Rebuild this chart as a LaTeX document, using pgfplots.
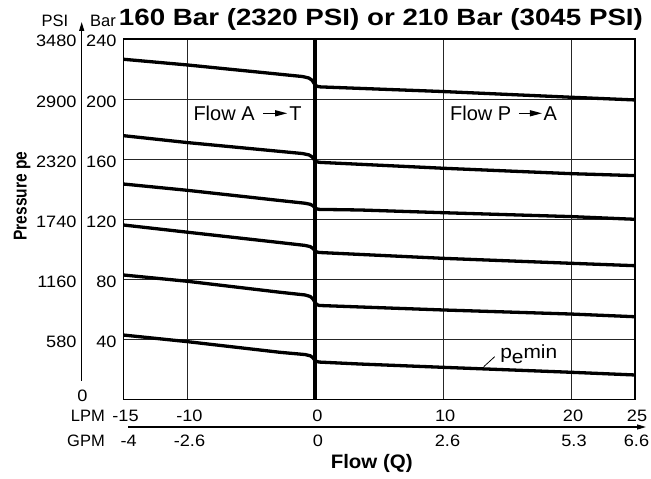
\documentclass[border=0pt]{standalone}
\usepackage{fontspec}
\setmainfont{Liberation Sans}
\newfontfamily\tickf[FakeStretch=1.1]{Liberation Sans}
\newfontfamily\titlef[FakeStretch=1.18]{Liberation Sans}
\newfontfamily\labf[FakeStretch=1.05]{Liberation Sans}
\usepackage{pgfplots}
\pgfplotsset{compat=1.18}
\usetikzlibrary{arrows.meta}

\newcommand{\tickfont}{\tickf\fontsize{16.5bp}{20bp}\selectfont}

\begin{document}
\begin{tikzpicture}
\useasboundingbox (-123.5bp,-79.7bp) rectangle (527.5bp,399.3bp);
\begin{axis}[
  at={(0,0)}, anchor=south west,
  scale only axis, width=511.5bp, height=360.3bp,
  xmin=-15, xmax=25, ymin=0, ymax=240,
  xtick={-15,-10,0,10,20,25},
  xticklabels={-15,-10,0,10,20,25},
  ytick={40,80,120,160,200,240},
  yticklabels={40,80,120,160,200,240},
  grid=major,
  major grid style={line width=0.9bp, black!85},
  tick style={draw=none},
  axis line style={line width=1.4bp},
  xticklabel style={font=\tickfont, anchor=base, inner sep=0pt, yshift=-22.4bp, xshift=2bp},
  yticklabel style={font=\tickfont, anchor=base east, inner sep=0pt, xshift=-6.8bp, yshift=-8bp},
  clip=false,
]
% curves
\addplot[line width=3.3bp, line join=round] coordinates {
 (-15,226.5) (-10,222.7) (-1,215) (-0.5,214) (-0.25,212.5) (-0.1,210.5) (0,209.3) (0.15,208.5) (0.4,208.1) (10,205) (20,201.2) (25,199.4)};
\addplot[line width=3.3bp, line join=round] coordinates {
 (-15,175.6) (-10,171) (-1,163.7) (-0.5,162.8) (-0.25,161.5) (-0.1,159.8) (0,158.8) (0.15,158.1) (0.4,157.8) (10,153.9) (20,150.3) (25,149)};
\addplot[line width=3.3bp, line join=round] coordinates {
 (-15,143.4) (-10,139.2) (-2.76,132.4) (-0.8,130.6) (-0.4,129.9) (-0.2,129) (-0.05,127.8) (0.1,126.9) (0.3,126.5) (3.5,126.1) (10,124.3) (20,121.7) (25,119.9)};
\addplot[line width=3.3bp, line join=round] coordinates {
 (-15,116.1) (-10,111.3) (-2.76,104.4) (-0.8,102.5) (-0.4,101.7) (-0.2,100.6) (-0.05,99.2) (0.1,98.2) (0.3,97.8) (3.5,96.5) (10,93.9) (20,90.6) (25,89)};
\addplot[line width=3.3bp, line join=round] coordinates {
 (-15,82.8) (-10,78.6) (-2.76,71.3) (-0.8,69.5) (-0.4,68.5) (-0.2,67) (-0.05,65) (0.1,63.2) (0.3,62.5) (3.5,61.5) (10,59.5) (20,56.8) (25,55)};
\addplot[line width=3.3bp, line join=round] coordinates {
 (-15,42.8) (-10,38.4) (-2.76,31.3) (-0.8,29.8) (-0.4,29) (-0.2,27.8) (-0.05,26.2) (0.1,25.2) (0.3,24.8) (3.5,23.5) (10,21.3) (20,18) (25,16.2)};
% zero flow line
\addplot[line width=4.3bp] coordinates {(0,0) (0,240)};
% p_e min annotation
\draw[line width=0.8bp] (axis cs:13.17,21.7) -- (axis cs:14.03,28.4);
\node[anchor=base west, inner sep=0pt, font=\tickf\fontsize{19bp}{22bp}\selectfont] at (axis cs:14.45,27.3) {p\raisebox{-5bp}{e}min};
\end{axis}

% title
\node[anchor=base, inner sep=0pt, font=\titlef\bfseries\fontsize{23.5bp}{28bp}\selectfont] at (257.5bp,373.3bp) {160 Bar (2320 PSI) or 210 Bar (3045 PSI)};
% headers
\node[anchor=base, inner sep=0pt, font=\fontsize{16.5bp}{20bp}\selectfont] at (-68.5bp,372.6bp) {PSI};
\node[anchor=base, inner sep=0pt, font=\fontsize{16.5bp}{20bp}\selectfont] at (-20.5bp,372.6bp) {Bar};
% vertical arrow
\draw[line width=1.3bp, -{Triangle[length=9bp,width=5bp]}] (-41.8bp,18.3bp) -- (-41.8bp,377.3bp);
\node[anchor=base, inner sep=0pt, font=\tickfont] at (-41bp,-2.4bp) {0};
% PSI values
\foreach \v/\p in {40/580,80/1160,120/1740,160/2320,200/2900,240/3480}{
  \node[anchor=base east, inner sep=0pt, font=\tickfont] at (-46.8bp,{\v*1.50125bp-8bp}) {\p};
}
% y label
\node[anchor=base, rotate=90, inner sep=0pt, font=\bfseries\fontsize{15.5bp}{19bp}\selectfont] at (-96.8bp,203.3bp) {\scalebox{1}[1.2]{Pressure pe}};
% LPM / GPM
\node[anchor=base east, inner sep=0pt, font=\fontsize{16.5bp}{20bp}\selectfont] at (-18.5bp,-22.4bp) {LPM};
\node[anchor=base east, inner sep=0pt, font=\fontsize{16.5bp}{20bp}\selectfont] at (-18.5bp,-46.7bp) {GPM};
\draw[line width=1.3bp, -{Triangle[length=9bp,width=5bp]}] (4.8bp,-27.7bp) -- (522.5bp,-27.7bp);
\foreach \x/\g in {5.2/-4,66/-2.6,194.5/0,324/2.6,450.5/5.3,513/6.6}{
  \node[anchor=base, inner sep=0pt, font=\tickfont] at (\x bp,-46.7bp) {\g};
}
\node[anchor=base, inner sep=0pt, font=\labf\bfseries\fontsize{19.5bp}{23bp}\selectfont] at (248.2bp,-69.5bp) {Flow (Q)};
% flow direction labels
\node[anchor=base west, inner sep=0pt, font=\fontsize{20bp}{24bp}\selectfont] at (69.8bp,278.3bp) {Flow A\hspace{8bp}\tikz[baseline=0pt]\draw[line width=1.2bp,-{Triangle[length=12bp,width=6bp]}] (0,7.7bp)--(24bp,7.7bp);\hspace{1.5bp}T};
\node[anchor=base west, inner sep=0pt, font=\fontsize{20bp}{24bp}\selectfont] at (326.5bp,278.3bp) {Flow P\hspace{7bp}\tikz[baseline=0pt]\draw[line width=1.2bp,-{Triangle[length=12bp,width=6bp]}] (0,7.7bp)--(23bp,7.7bp);\hspace{1bp}A};
\end{tikzpicture}
\end{document}
